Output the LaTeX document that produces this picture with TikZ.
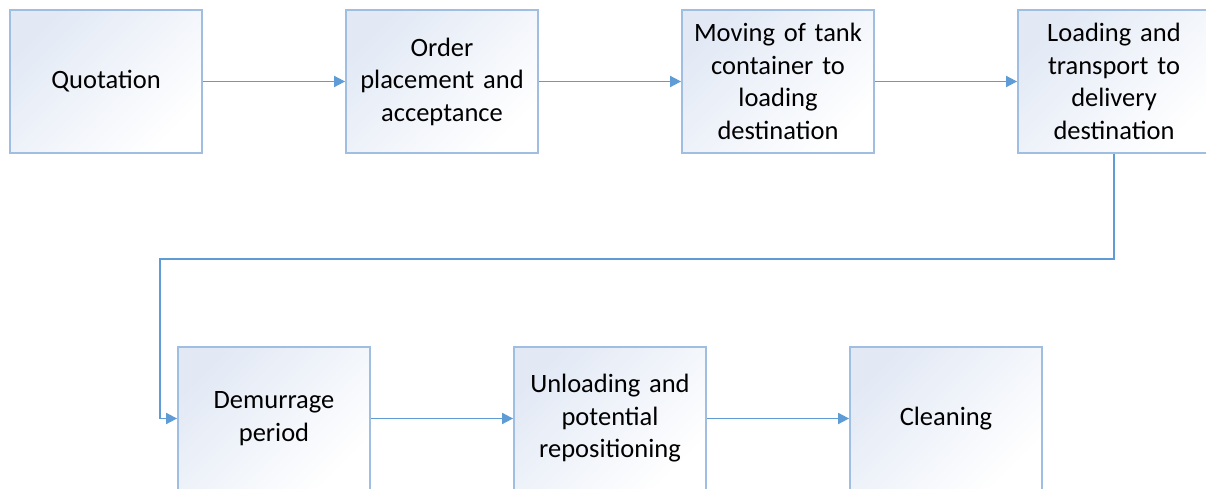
\documentclass[tikz,border=0pt]{standalone}
\usepackage{fontspec}
\setmainfont{Carlito}
\usetikzlibrary{arrows.meta}

\definecolor{BoxLine}{RGB}{160,190,225}
\definecolor{BoxTop}{RGB}{226,233,245}
\definecolor{FlowLine}{RGB}{95,155,213}

\tikzset{
  stage/.style={draw=BoxLine, line width=1.8pt, top color=BoxTop, bottom color=white,
    shading angle=45, minimum width=192pt, minimum height=143pt, text width=175pt,
    align=center, inner sep=0pt, font=\fontsize{26.5}{32.5}\selectfont},
  flow/.style={draw=FlowLine, line width=1.8pt, -{Triangle[length=11pt,width=11pt]}}
}

\begin{document}
\begin{tikzpicture}[x=1pt, y=-1pt]
\useasboundingbox (0,0) rectangle (1206,489);
\clip (0,0) rectangle (1206,489);
% Top row
    \node[stage] (quote) at (106,81.5) {Quotation};
    \node[stage] (order) at (442,81.5) {Order\\placement and\\acceptance};
    \node[stage] (moving) at (778,81.5) {Moving of tank\\container to\\loading\\destination};
    \node[stage] (loading) at (1114,81.5) {Loading and\\transport to\\delivery\\destination};
% Bottom row
    \node[stage] (demurrage) at (274,418.5) {Demurrage\\period};
    \node[stage] (unloading) at (610,418.5) {Unloading and\\potential\\repositioning};
    \node[stage] (cleaning) at (946,418.5) {Cleaning};
% Flow
    \coordinate (turnA) at (1114,259);
    \coordinate (turnB) at (160,259);
    \draw[flow] (quote) -- (order);
    \draw[flow] (order) -- (moving);
    \draw[flow] (moving) -- (loading);
    \draw[flow] (loading.south) -- (turnA) -- (turnB) |- (demurrage.west);
    \draw[flow] (demurrage) -- (unloading);
    \draw[flow] (unloading) -- (cleaning);
\end{tikzpicture}
\end{document}
